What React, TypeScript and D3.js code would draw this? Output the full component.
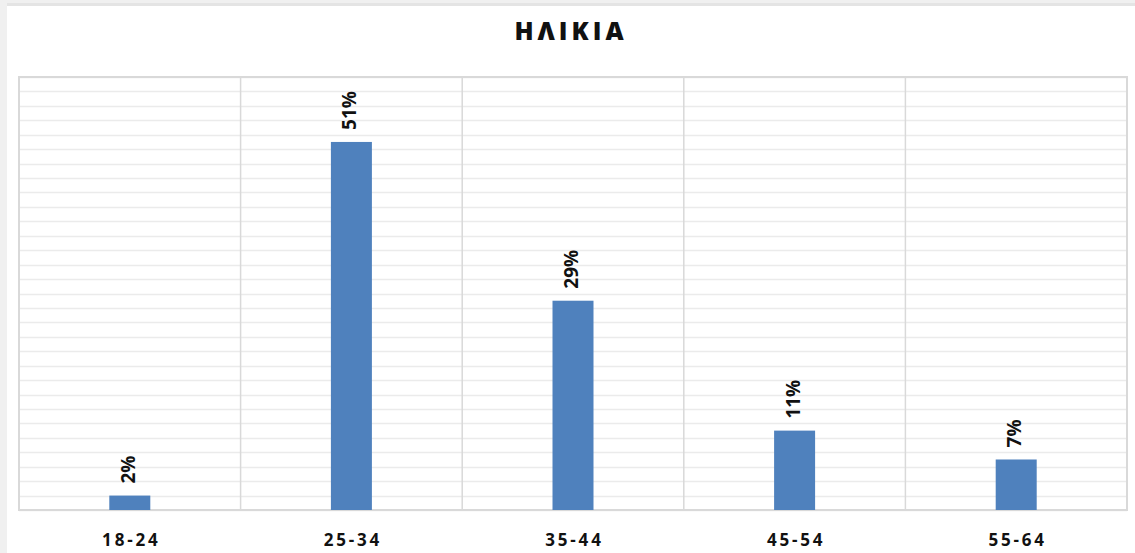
import React from "react";
import * as d3 from "d3";

const categories = ["18-24", "25-34", "35-44", "45-54", "55-64"];
const values = [0.02, 0.51, 0.29, 0.11, 0.07];
const valueLabels = ["2%", "51%", "29%", "11%", "7%"];
const title = "ΗΛΙΚΙΑ";

const W = 1135;
const H = 553;
const plot = { left: 19, right: 1127, top: 77, bottom: 510 };

export default function App() {
  const x = d3.scaleBand<string>().domain(categories).range([plot.left, plot.right]);
  const y = d3.scaleLinear().domain([0, 0.6]).range([plot.bottom, plot.top]);
  const gridValues = d3.range(0, 0.6001, 0.02);
  const barW = x.bandwidth() * 0.185;
  const bounds = categories.map((c) => x(c) as number).concat([plot.right]);
  const font = "'Open Sans', 'DejaVu Sans', sans-serif";

  return (
    <svg
      width={W}
      height={H}
      style={{ position: "absolute", left: 0, top: 0, display: "block" }}
    >
      {/* container frame */}
      <rect x={0} y={0} width={W} height={H} fill="#f0f0f0" />
      <rect x={7} y={3} width={W - 7} height={3} fill="#e4e4e4" />
      <rect x={7} y={6} width={W - 7} height={H - 6} fill="#ffffff" />

      <text
        x={571}
        y={40}
        textAnchor="middle"
        fontFamily={font}
        fontWeight={800}
        fontSize={25}
        letterSpacing={4}
        fill="#111"
      >
        {title}
      </text>

      {/* horizontal gridlines */}
      {gridValues.map((v, i) => (
        <line
          key={"h" + i}
          x1={plot.left}
          x2={plot.right}
          y1={Math.round(y(v)) + 0.5}
          y2={Math.round(y(v)) + 0.5}
          stroke="#ebebeb"
          strokeWidth={1.5}
        />
      ))}

      {/* category separators */}
      {bounds.map((bx, i) => (
        <line
          key={"v" + i}
          x1={bx}
          x2={bx}
          y1={plot.top}
          y2={plot.bottom}
          stroke="#d9d9d9"
          strokeWidth={1.5}
        />
      ))}

      <rect
        x={plot.left}
        y={plot.top}
        width={plot.right - plot.left}
        height={plot.bottom - plot.top}
        fill="none"
        stroke="#d9d9d9"
        strokeWidth={2}
      />

      {/* bars */}
      {categories.map((c, i) => {
        const cx = (x(c) as number) + x.bandwidth() / 2;
        return (
          <g key={c}>
            <rect
              x={cx - barW / 2}
              y={y(values[i])}
              width={barW}
              height={plot.bottom - y(values[i])}
              fill="#4f81bd"
            />
            <text
              transform={`translate(${cx},${y(values[i]) - 12}) rotate(-90)`}
              textAnchor="start"
              dominantBaseline="middle"
              fontFamily={font}
              fontWeight={700}
              fontSize={19}
              fill="#111"
            >
              {valueLabels[i]}
            </text>
            <text
              x={cx + 1.5}
              y={546}
              textAnchor="middle"
              fontFamily={font}
              fontWeight={700}
              fontSize={17}
              letterSpacing={2.8}
              fill="#111"
            >
              {c}
            </text>
          </g>
        );
      })}
    </svg>
  );
}
